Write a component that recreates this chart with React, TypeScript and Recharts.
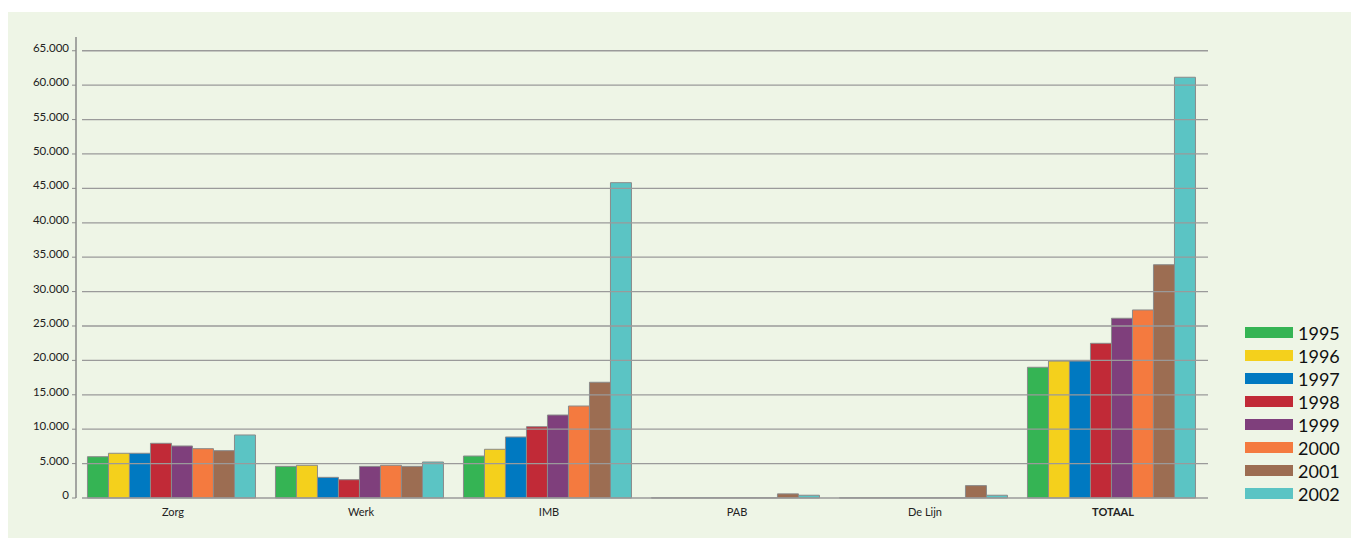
import { BarChart, Bar, XAxis, YAxis, ReferenceLine, Legend } from "recharts"

const categories = ["Zorg", "Werk", "IMB", "PAB", "De Lijn", "TOTAAL"]

const y1995 = [6000, 4600, 6100, 30, 30, 19000]
const y1996 = [6500, 4750, 7080, 30, 30, 19900]
const y1997 = [6500, 3000, 8870, 30, 30, 19900]
const y1998 = [7950, 2660, 10360, 30, 30, 22480]
const y1999 = [7560, 4600, 12060, 30, 30, 26120]
const y2000 = [7170, 4750, 13370, 30, 30, 27330]
const y2001 = [6880, 4600, 16820, 600, 1800, 33900]
const y2002 = [9160, 5230, 45830, 400, 400, 61150]

const yTicks = [0, 5000, 10000, 15000, 20000, 25000, 30000, 35000, 40000, 45000, 50000, 55000, 60000, 65000]

const series = [
  { key: "1995", values: y1995, color: "#35b454" },
  { key: "1996", values: y1996, color: "#f4d01c" },
  { key: "1997", values: y1997, color: "#0079c1" },
  { key: "1998", values: y1998, color: "#c12a37" },
  { key: "1999", values: y1999, color: "#7f3f7c" },
  { key: "2000", values: y2000, color: "#f47a3f" },
  { key: "2001", values: y2001, color: "#9c6d52" },
  { key: "2002", values: y2002, color: "#5bc4c4" },
]

const data = categories.map((name, i) => {
  const row: Record<string, string | number> = { name }
  series.forEach((s) => {
    row[s.key] = s.values[i]
  })
  return row
})

const font = "Lato, 'Noto Sans', sans-serif"

function formatTick(v: number) {
  return v === 0 ? "0" : `${v / 1000}.000`
}

function XTick(props: any) {
  const { x, y, payload } = props
  const bold = payload.value === "TOTAAL"
  return (
    <text
      x={x}
      y={y + 10}
      textAnchor="middle"
      fontSize={11}
      fontFamily={font}
      fontWeight={bold ? 700 : 400}
      fill="#222"
    >
      {payload.value}
    </text>
  )
}

function YTick(props: any) {
  const { x, y, payload } = props
  return (
    <text x={x - 1} y={y + 1} textAnchor="end" fontSize={11.5} fontFamily={font} fill="#222">
      {formatTick(payload.value)}
    </text>
  )
}

function GridLine(p: any) {
  return <line x1={p.x1 + 6} y1={p.y1} x2={p.x2} y2={p.y2} stroke="#9a9a9a" strokeWidth={1.3} />
}

function LegendBox(props: any) {
  const items = props.payload || []
  return (
    <div style={{ fontFamily: font }}>
      {items.map((it: any) => (
        <div key={it.value} style={{ display: "flex", alignItems: "center", height: 23 }}>
          <div style={{ width: 48, height: 11, background: it.color, marginRight: 5 }} />
          <span style={{ fontSize: 18, color: "#111" }}>{it.value}</span>
        </div>
      ))}
    </div>
  )
}

export default function App() {
  return (
    <div
      style={{
        position: "absolute",
        left: 8,
        top: 12,
        width: 1343,
        height: 526,
        background: "#eef5e6",
      }}
    >
      <BarChart
        width={1343}
        height={526}
        data={data}
        margin={{ top: 25, right: 43, left: 0, bottom: 0 }}
        barGap={0}
        barCategoryGap="4.5%"
      >
        <XAxis
          dataKey="name"
          height={40}
          axisLine={false}
          tickLine={false}
          tick={<XTick />}
          padding={{ left: 3, right: 1 }}
          interval={0}
        />
        <YAxis
          width={68}
          domain={[0, 67000]}
          ticks={yTicks}
          axisLine={{ stroke: "#8a8a8a", strokeWidth: 1.5 }}
          tickLine={{ stroke: "#8a8a8a" }}
          tickSize={4}
          tick={<YTick />}
          interval={0}
        />
        {series.map((s) => (
          <Bar
            key={s.key}
            dataKey={s.key}
            name={s.key}
            fill={s.color}
            stroke="#8a8a8a"
            strokeWidth={1}
            isAnimationActive={false}
          />
        ))}
        {yTicks.map((t) => (
          <ReferenceLine key={t} y={t} shape={GridLine} />
        ))}
        <Legend
          layout="vertical"
          align="right"
          verticalAlign="middle"
          content={<LegendBox />}
          wrapperStyle={{ position: "absolute", left: 1237, top: 309, width: 100 }}
        />
      </BarChart>
    </div>
  )
}
